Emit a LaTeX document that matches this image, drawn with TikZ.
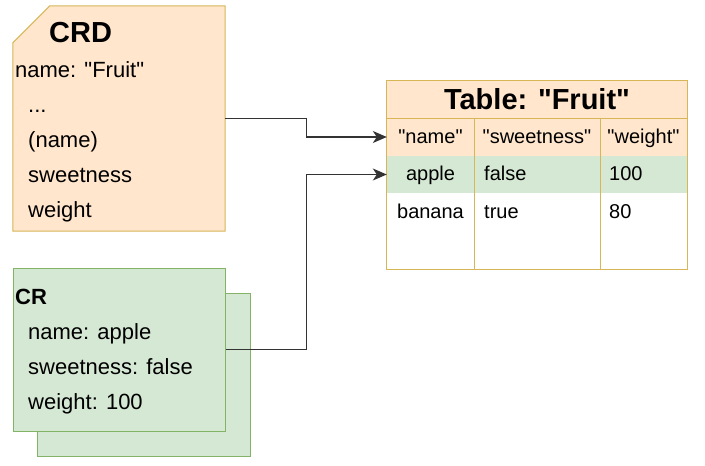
\documentclass[tikz,border=0pt]{standalone}
\usepackage{fontspec}
\setmainfont{Liberation Sans}[Ligatures=TeXOff]
\usetikzlibrary{arrows.meta}
\definecolor{peach}{HTML}{FFE6CC}
\definecolor{goldedge}{HTML}{D6B656}
\definecolor{mint}{HTML}{D5E8D4}
\definecolor{greenedge}{HTML}{82B366}
\definecolor{linkgray}{HTML}{333333}

\begin{document}
\begin{tikzpicture}[x=1pt,y=-1pt,
  greenbox/.style={fill=mint, draw=greenedge, line width=1pt, inner sep=0pt},
  rowbox/.style={minimum width=300pt, inner sep=0pt},
  tableline/.style={draw=goldedge, line width=1pt},
  txt/.style={inner sep=0pt, anchor=base west, font=\fontsize{22}{26}\selectfont},
  celltxt/.style={inner sep=0pt, font=\fontsize{20}{24}\selectfont},
  link/.style={draw=linkgray, line width=1.2pt, -{Stealth[length=14pt,width=12pt,inset=4pt]}}]
\useasboundingbox (0,0) rectangle (705,466);

% CRD card with cut corner
\node[minimum width=212pt, minimum height=225pt, inner sep=0pt] (crd) at (119,118.5) {};
\filldraw[fill=peach, draw=goldedge, line width=1pt] ([yshift=-37pt]crd.north west) -- ([xshift=37pt]crd.north west) -- (crd.north east) -- (crd.south east) -- (crd.south west) -- cycle;
\node[txt, font=\fontsize{29}{34}\selectfont\bfseries] (crdtitle) at (49,42) {CRD};
\node[txt] (crdname) at (15,77) {name: "Fruit"};
\node[txt] (crddots) at (28,112) {...};
\foreach \field [count=\i from 2] in {(name), sweetness, weight}
  \node[txt] (crdrow\i) at (28,77+35*\i) {\field};

% CR cards
\node[greenbox, minimum width=213pt, minimum height=163pt] (crback) at (143.5,374.5) {};
\node[greenbox, minimum width=212pt, minimum height=163pt] (crfront) at (119,349.5) {};
\node[txt, font=\fontsize{22}{26}\selectfont\bfseries] (crtitle) at (15,304) {CR};
\foreach \field [count=\i] in {name: apple, sweetness: false, weight: 100}
  \node[txt] (crrow\i) at (28,304+35*\i) {\field};

% table
\node[rowbox, fill=peach, minimum height=37pt, font=\fontsize{29}{34}\selectfont\bfseries] (tabtitle) at (537,99.5) {Table: "Fruit"};
\node[rowbox, fill=peach, minimum height=38pt] (headrow) at (537,137) {};
\node[rowbox, fill=mint, minimum height=37pt] (applerow) at (537,174.5) {};
\node[rowbox, fill=white, minimum height=76pt] (bodyrow) at (537,231) {};
\draw[tableline] (tabtitle.north west) rectangle (bodyrow.south east);
\draw[tableline] (tabtitle.south west) -- (tabtitle.south east);
\foreach \cx in {474,600}
  \draw[tableline] (\cx,118) -- (\cx,269);
\foreach \cx/\head [count=\i] in {430.5/"name", 537/"sweetness", 643.5/"weight"}
  \node[celltxt, anchor=base] (head\i) at (\cx,143) {\head};
\node[celltxt, anchor=base] (apple1) at (430.5,180) {apple};
\node[celltxt, anchor=base west] (apple2) at (484,180) {false};
\node[celltxt, anchor=base west] (apple3) at (609,180) {100};
\node[celltxt, anchor=base] (banana1) at (430.5,218) {banana};
\node[celltxt, anchor=base west] (banana2) at (484,218) {true};
\node[celltxt, anchor=base west] (banana3) at (609,218) {80};

% connectors
\draw[link] (crd.east) -- ++(81,0) |- (headrow.west);
\draw[link] (crfront.east) -- ++(81,0) |- (applerow.west);
\end{tikzpicture}
\end{document}
